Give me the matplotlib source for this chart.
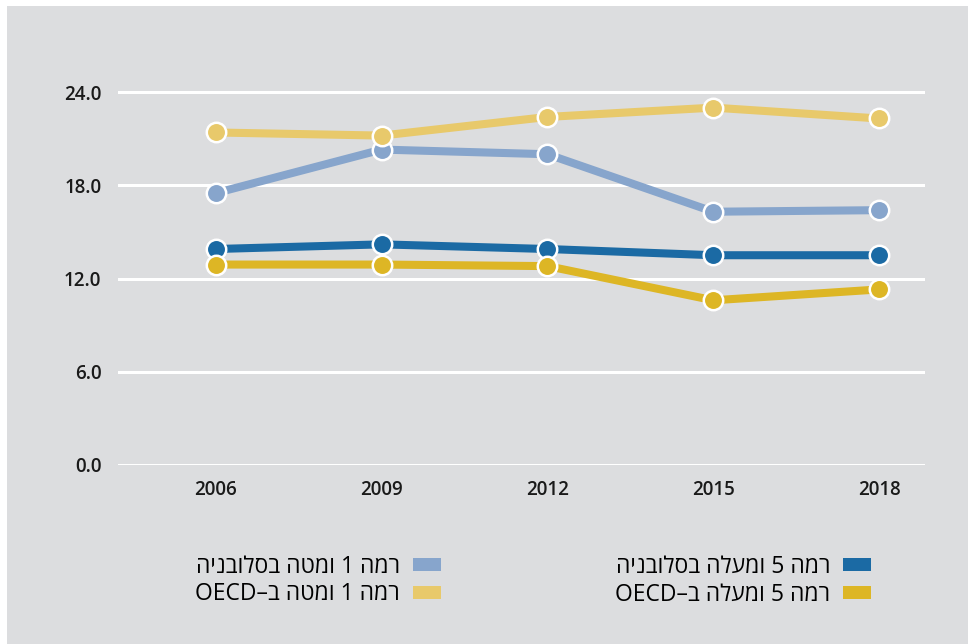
import re
import matplotlib
matplotlib.use("Agg")
import matplotlib.pyplot as plt
from matplotlib.patches import Patch, Rectangle

plt.rcParams['font.family'] = ['Open Sans', 'DejaVu Sans']

years = [2006, 2009, 2012, 2015, 2018]
slo_low = [17.5, 20.3, 20.0, 16.3, 16.4]      # level 1 and below, Slovenia
oecd_low = [21.4, 21.2, 22.4, 23.0, 22.3]     # level 1 and below, OECD
slo_high = [13.9, 14.2, 13.9, 13.5, 13.5]     # level 5 and above, Slovenia
oecd_high = [12.9, 12.9, 12.8, 10.6, 11.3]    # level 5 and above, OECD

labels = ["רמה 1 ומטה בסלובניה", "רמה 1 ומטה ב–OECD",
          "רמה 5 ומעלה בסלובניה", "רמה 5 ומעלה ב–OECD"]
colors = ["#87a5cc", "#e8c96b", "#1b6aa4", "#ddb625"]
yticks = [0, 6, 12, 18, 24]


def visual(s):
    # matplotlib has no bidi: flip the string, then flip latin/digit runs back
    r = s[::-1]
    return re.sub(r"[A-Za-z0-9.]+", lambda m: m.group(0)[::-1], r)


fig = plt.figure(figsize=(9.68, 6.44), dpi=100)
fig.patches.append(Rectangle((7 / 968, 0), 1, 1 - 6 / 644, transform=fig.transFigure,
                             facecolor="#dcdddf", edgecolor="none", zorder=-10))

ax = fig.add_axes([118 / 968, 179 / 644, 807 / 968, 404 / 644])
ax.set_facecolor("none")

series = [slo_low, oecd_low, slo_high, oecd_high]
for vals, col in zip(series, colors):
    ax.plot(years, vals, color=col, lw=5.8, marker="o", ms=14,
            mfc=col, mec="white", mew=1.8, clip_on=False, zorder=3)

ax.set_xlim(2004.23, 2018.83)
ax.set_ylim(0, 26)
ax.set_yticks(yticks)
ax.set_yticklabels([f"{v:.1f}" for v in yticks])
ax.set_xticks(years)
ax.grid(axis="y", color="white", lw=2.2)
ax.set_axisbelow(True)
for sp in ax.spines.values():
    sp.set_visible(False)
ax.tick_params(length=0, labelsize=13.5)
ax.tick_params(axis="y", pad=12)
ax.tick_params(axis="x", pad=11)
for t in ax.get_xticklabels() + ax.get_yticklabels():
    t.set_fontweight("semibold")
    t.set_color("#1a1a1a")

handles = [Patch(facecolor=c, edgecolor="none") for c in colors]
ax.legend(handles, [visual(l) for l in labels], ncol=2, frameon=False,
          markerfirst=False, loc="upper right",
          bbox_to_anchor=(871 / 968, 1 - 555 / 644), bbox_transform=fig.transFigure,
          borderaxespad=0, borderpad=0, fontsize=16.5, handlelength=1.22,
          handleheight=0.48, handletextpad=0.57, columnspacing=7.6,
          labelspacing=0.15)

fig.savefig("out.png", dpi=100)
